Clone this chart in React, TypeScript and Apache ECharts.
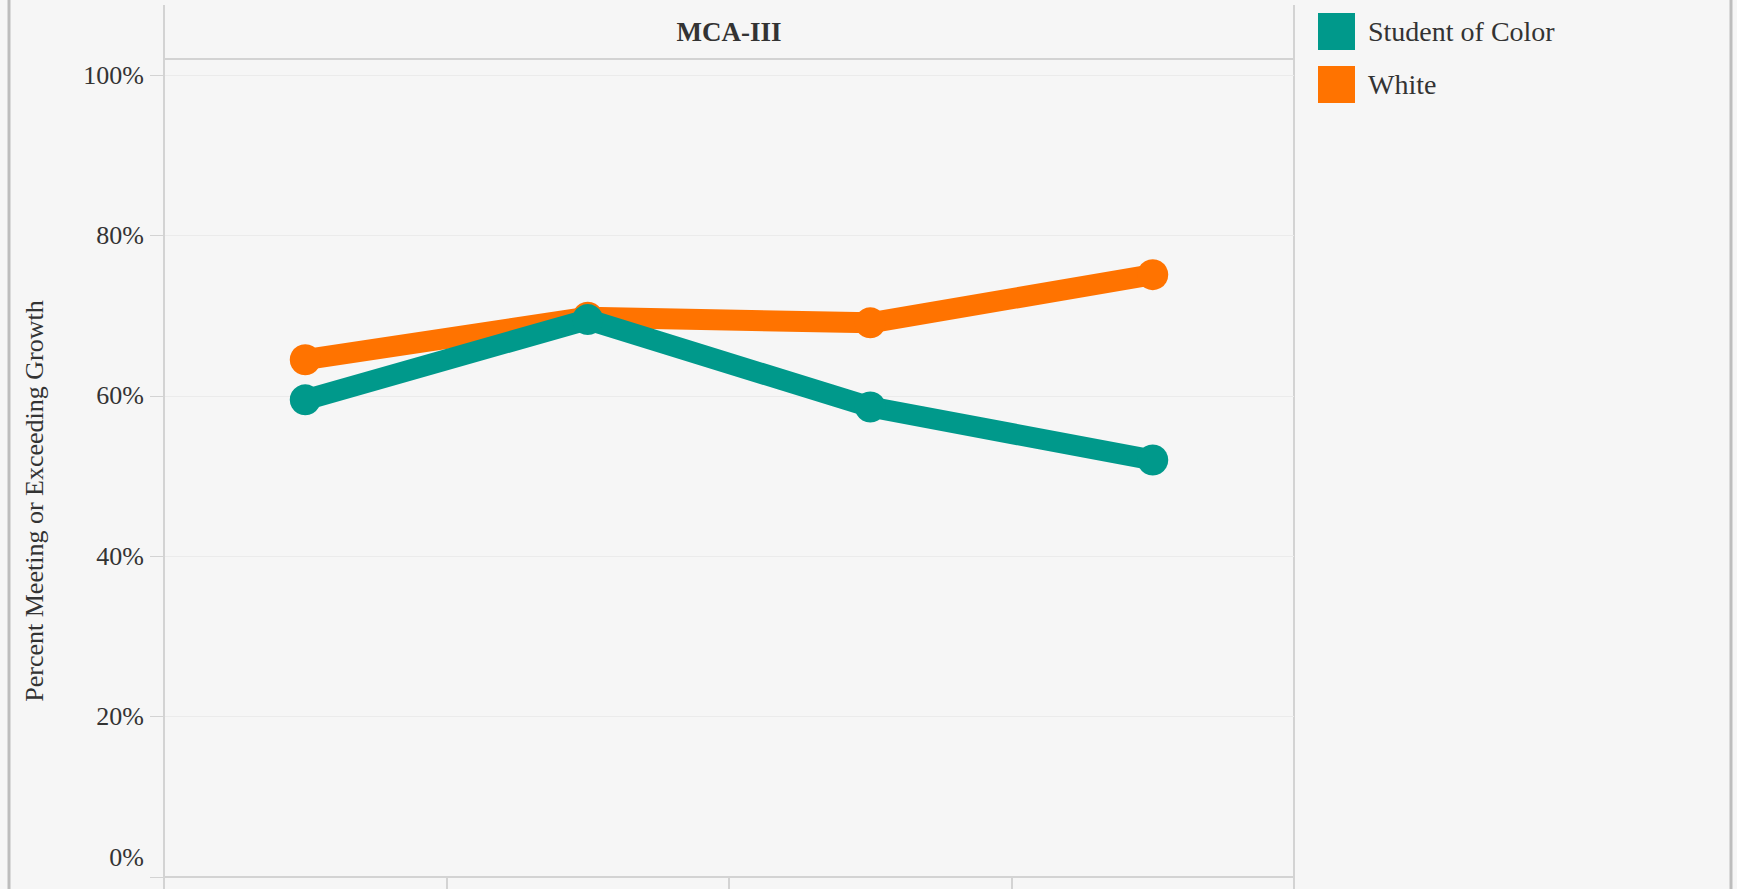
import React, { useEffect, useRef } from "react";
import * as echarts from "echarts";

const categories = ["Year 1", "Year 2", "Year 3", "Year 4"];
const studentOfColor = [59.5, 69.5, 58.6, 52.0];
const white = [64.5, 69.8, 69.1, 75.1];
const yTicks = { min: 0, max: 100, interval: 20 };
const panelTitle = "MCA-III";
const yAxisTitle = "Percent Meeting or Exceeding Growth";

const TEAL = "#00998b";
const ORANGE = "#ff7300";
const FONT = "'Liberation Serif', 'Times New Roman', serif";
const TEXT = "#333333";
const AXIS = "#d3d3d3";

export default function App() {
  const ref = useRef<HTMLDivElement>(null);
  useEffect(() => {
    if (!ref.current) return;
    const chart = echarts.init(ref.current, undefined, { renderer: "svg" });
    chart.setOption({
      animation: false,
      backgroundColor: "#f6f6f6",
      grid: { left: 164, right: 443, top: 75, bottom: 12, containLabel: false },
      legend: {
        data: ["Student of Color", "White"],
        orient: "vertical",
        left: 1313,
        top: 8,
        itemWidth: 37,
        itemHeight: 37,
        itemGap: 16,
        icon: "rect",
        textStyle: { fontSize: 28, color: TEXT, fontFamily: FONT, padding: [0, 0, 0, 8] },
      },
      xAxis: {
        type: "category",
        data: categories,
        boundaryGap: true,
        axisLine: { show: true, lineStyle: { color: AXIS, width: 2 } },
        axisTick: { show: true, length: 12, interval: 0, lineStyle: { color: AXIS, width: 2 } },
        axisLabel: { show: false },
        splitLine: { show: false },
      },
      yAxis: {
        type: "value",
        min: yTicks.min,
        max: yTicks.max,
        interval: yTicks.interval,
        name: yAxisTitle,
        nameLocation: "middle",
        nameRotate: 90,
        nameGap: 117,
        nameTextStyle: { fontSize: 26, color: TEXT, fontFamily: FONT, padding: [0, 50, 0, 0] },
        axisLine: { show: true, lineStyle: { color: AXIS, width: 2 } },
        axisTick: { show: true, length: 14, lineStyle: { color: AXIS, width: 1 } },
        splitLine: { show: true, lineStyle: { color: "#ebebeb", width: 1 } },
        axisLabel: {
          fontSize: 26,
          color: TEXT,
          fontFamily: FONT,
          margin: 20,
          formatter: (v: number) => (v === 0 ? "{z|0%}" : v + "%"),
          rich: {
            z: { fontSize: 26, color: TEXT, fontFamily: FONT, padding: [0, 0, 40, 0] },
          },
        },
      },
      series: [
        {
          name: "White",
          type: "line",
          data: white,
          color: ORANGE,
          lineStyle: { width: 21, color: ORANGE },
          itemStyle: { color: ORANGE },
          symbol: "circle",
          symbolSize: 31,
          z: 2,
        },
        {
          name: "Student of Color",
          type: "line",
          data: studentOfColor,
          color: TEAL,
          lineStyle: { width: 21, color: TEAL },
          itemStyle: { color: TEAL },
          symbol: "circle",
          symbolSize: 31,
          z: 3,
        },
      ],
      graphic: [
        { type: "line", shape: { x1: 9, y1: 0, x2: 9, y2: 889 }, style: { stroke: "#bdbdbd", lineWidth: 3 } },
        { type: "line", shape: { x1: 1731, y1: 0, x2: 1731, y2: 889 }, style: { stroke: "#bdbdbd", lineWidth: 3 } },
        { type: "line", shape: { x1: 164, y1: 5, x2: 164, y2: 76 }, style: { stroke: AXIS, lineWidth: 2 } },
        { type: "line", shape: { x1: 1294, y1: 5, x2: 1294, y2: 889 }, style: { stroke: AXIS, lineWidth: 2 } },
        { type: "line", shape: { x1: 164, y1: 59, x2: 1294, y2: 59 }, style: { stroke: AXIS, lineWidth: 2 } },
        {
          type: "text",
          x: 729,
          y: 32,
          style: {
            text: panelTitle,
            fontSize: 27,
            fontWeight: "bold",
            fontFamily: FONT,
            fill: TEXT,
            textAlign: "center",
            textVerticalAlign: "middle",
          },
        },
      ],
    });
    return () => chart.dispose();
  }, []);
  return <div ref={ref} style={{ position: "absolute", left: 0, top: 0, width: 1737, height: 889 }} />;
}
